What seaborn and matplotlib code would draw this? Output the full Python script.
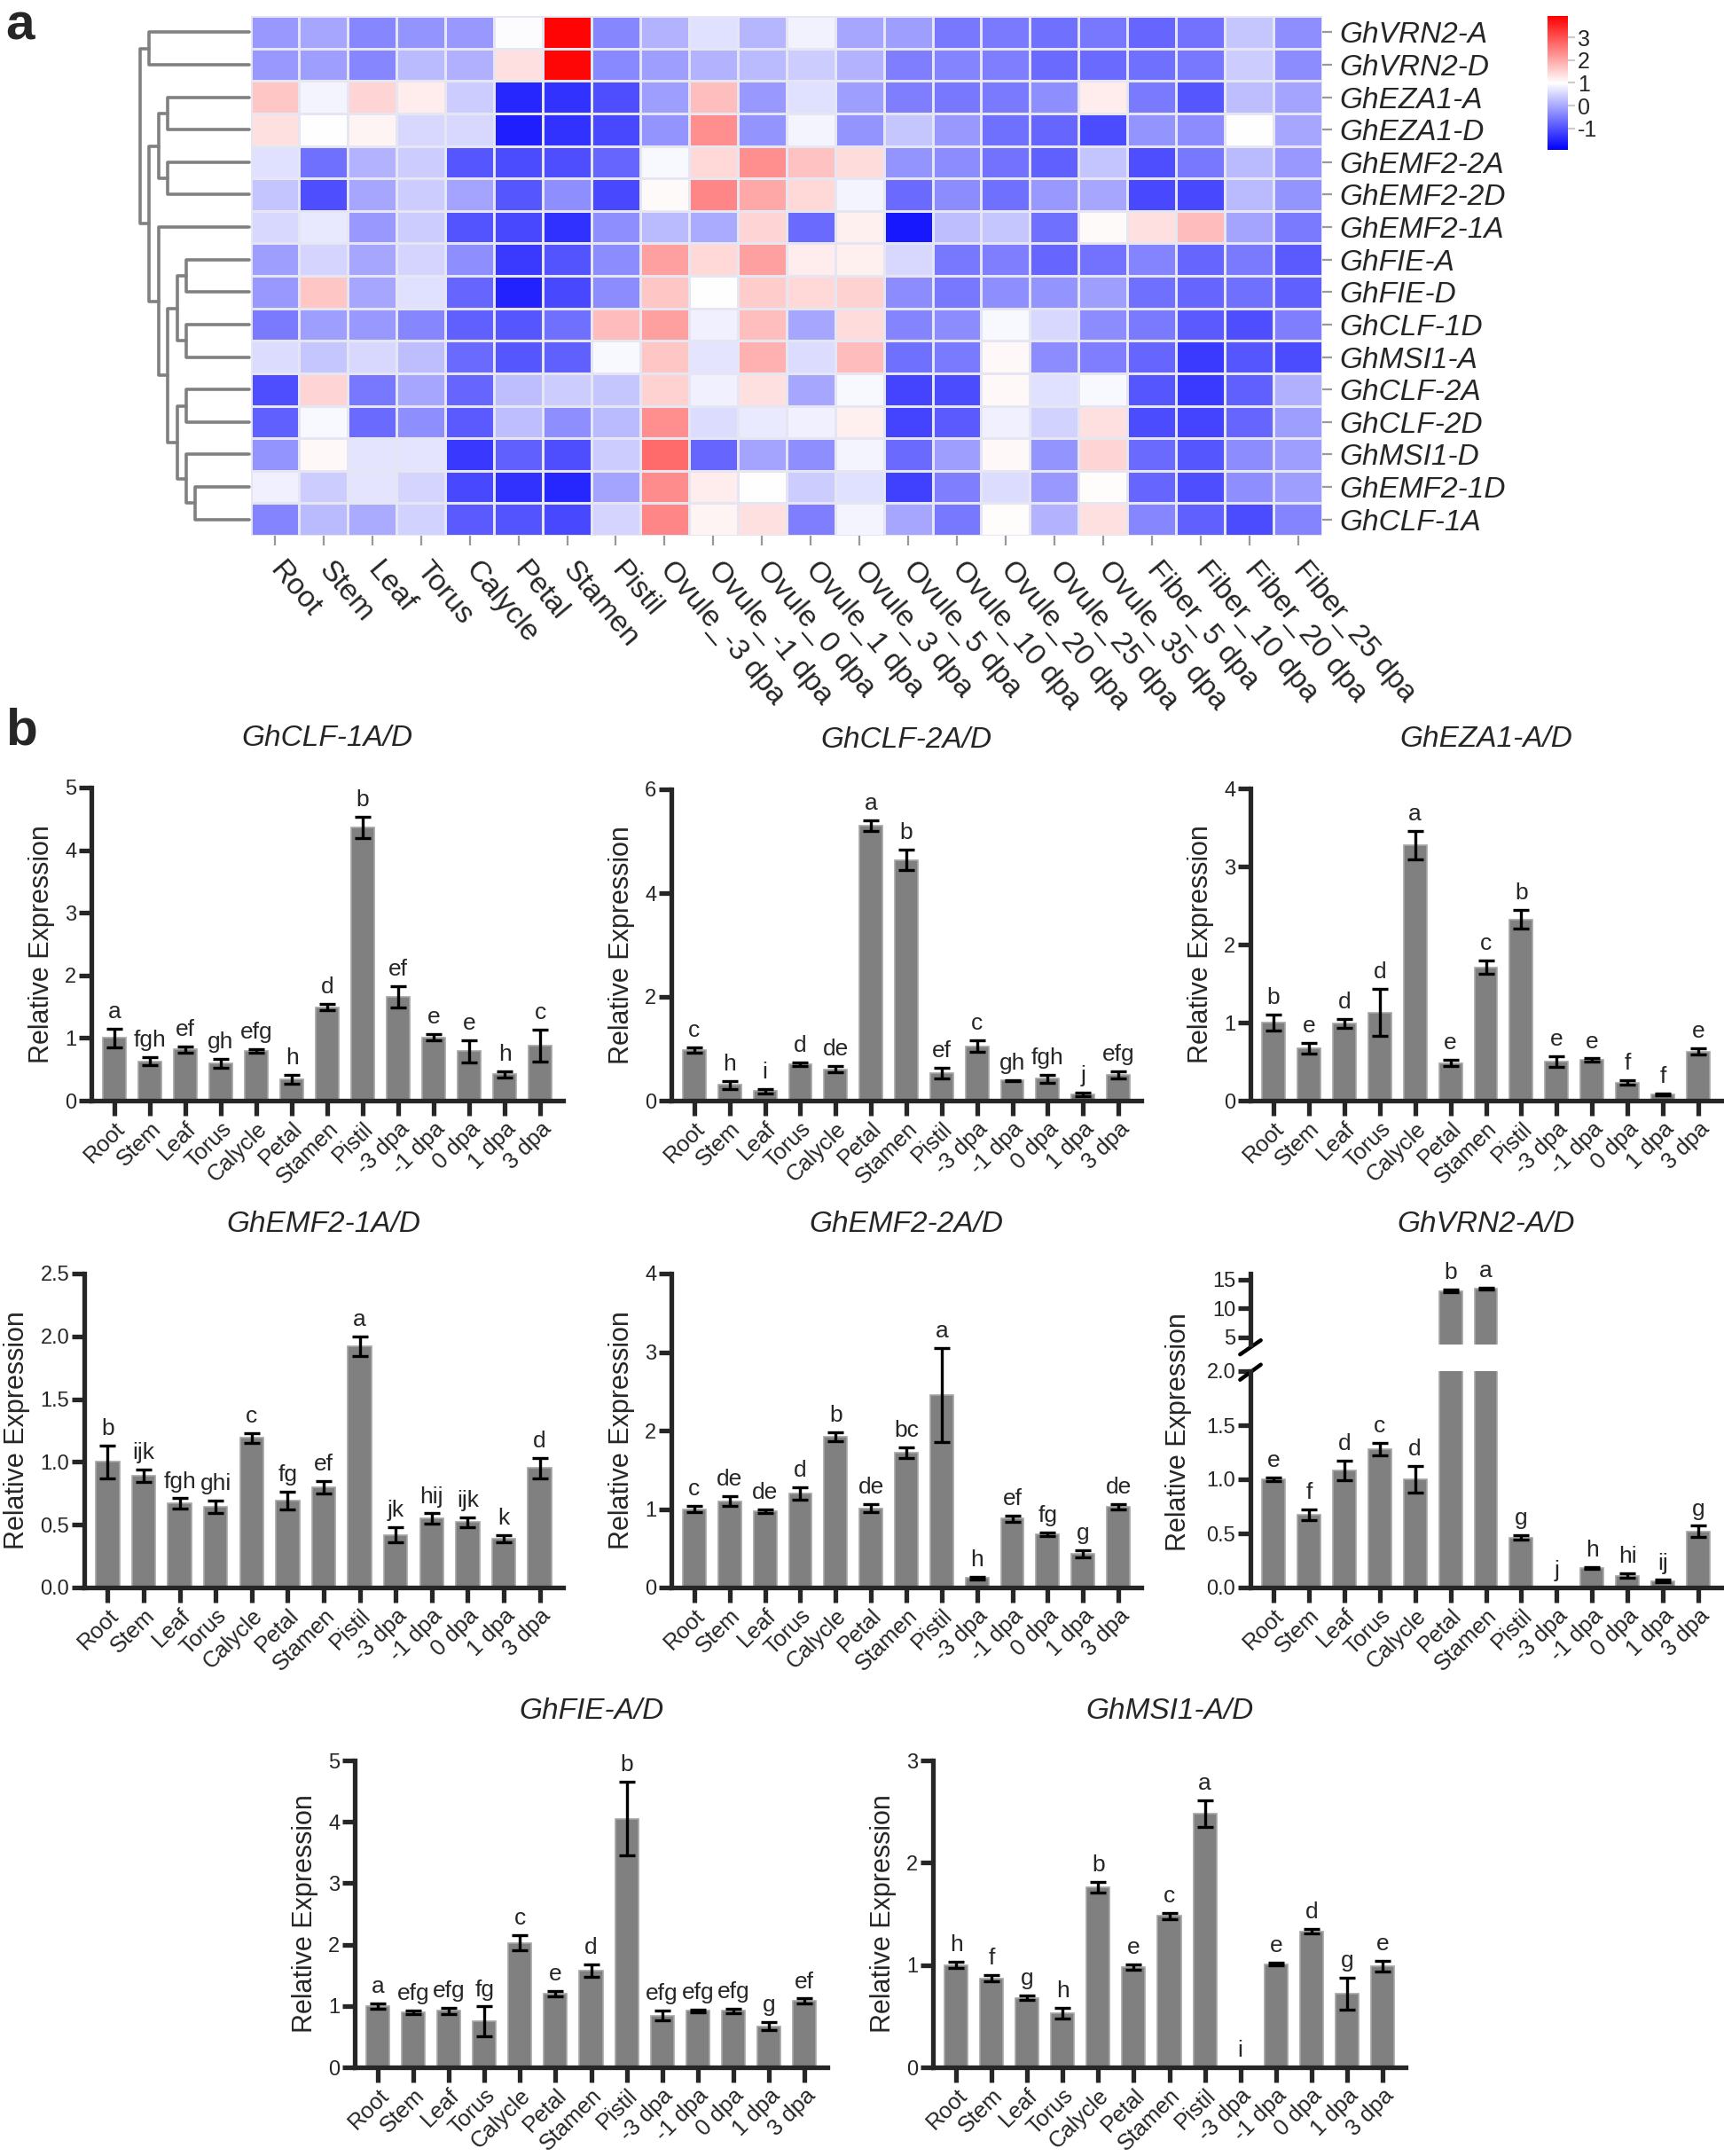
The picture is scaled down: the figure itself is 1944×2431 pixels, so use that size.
import numpy as np
import pandas as pd
import seaborn as sns
import matplotlib.pyplot as plt
from matplotlib.colors import LinearSegmentedColormap

W, H, DPI = 1944, 2431, 200

# ---------- panel a: heatmap data ----------
hm_tissues = ["Root", "Stem", "Leaf", "Torus", "Calycle", "Petal", "Stamen", "Pistil",
              "Ovule_-3 dpa", "Ovule_-1 dpa", "Ovule_0 dpa", "Ovule_1 dpa", "Ovule_3 dpa",
              "Ovule_5 dpa", "Ovule_10 dpa", "Ovule_20 dpa", "Ovule_25 dpa", "Ovule_35 dpa",
              "Fiber_5 dpa", "Fiber_10 dpa", "Fiber_20 dpa", "Fiber_25 dpa"]
hm_genes = ["GhVRN2-A", "GhVRN2-D", "GhEZA1-A", "GhEZA1-D", "GhEMF2-2A", "GhEMF2-2D",
            "GhEMF2-1A", "GhFIE-A", "GhFIE-D", "GhCLF-1D", "GhMSI1-A", "GhCLF-2A",
            "GhCLF-2D", "GhMSI1-D", "GhEMF2-1D", "GhCLF-1A"]
hm_values = [
    [-0.18, -0.03, -0.39, -0.24, -0.18, 0.97, 3.89, -0.39, 0.12, 0.65, 0.17, 0.85, -0.03, -0.12, -0.56, -0.53, -0.65, -0.56, -0.77, -0.62, 0.35, -0.30],
    [-0.18, -0.12, -0.39, 0.20, 0.09, 1.35, 3.86, -0.36, -0.12, 0.12, 0.20, 0.41, 0.12, -0.48, -0.42, -0.48, -0.71, -0.71, -0.65, -0.56, 0.41, -0.33],
    [1.65, 0.88, 1.50, 1.21, 0.41, -1.51, -1.36, -1.04, -0.12, 1.74, -0.18, 0.65, -0.12, -0.48, -0.56, -0.53, -0.30, 1.21, -0.53, -0.95, 0.26, -0.06],
    [1.35, 1.00, 1.12, 0.56, 0.56, -1.60, -1.36, -1.12, -0.24, 2.30, -0.24, 0.88, -0.24, 0.35, -0.18, -0.65, -0.77, -1.07, -0.24, -0.33, 1.00, -0.03],
    [0.65, -0.65, 0.12, 0.41, -0.95, -1.07, -1.04, -0.77, 0.91, 1.44, 2.30, 1.71, 1.41, -0.24, -0.33, -0.62, -0.83, 0.32, -1.04, -0.56, 0.20, -0.18],
    [0.32, -1.04, -0.03, 0.41, -0.06, -0.95, -0.30, -1.12, 1.06, 2.39, 2.00, 1.44, 0.88, -0.71, -0.33, -0.65, -0.18, -0.03, -1.12, -1.12, 0.20, -0.24],
    [0.56, 0.73, -0.18, 0.41, -0.98, -1.12, -1.39, -0.30, 0.20, 0.03, 1.50, -0.71, 1.18, -1.66, 0.26, 0.35, -0.65, 1.06, 1.35, 1.77, -0.06, -0.53],
    [-0.12, 0.50, -0.03, 0.50, -0.30, -1.27, -0.98, -0.33, 2.09, 1.44, 2.09, 1.21, 1.18, 0.56, -0.56, -0.48, -0.77, -0.62, -0.42, -0.77, -0.53, -0.89],
    [-0.18, 1.65, -0.03, 0.65, -0.77, -1.54, -1.12, -0.33, 1.65, 1.00, 1.59, 1.44, 1.53, -0.33, -0.56, -0.30, -0.24, -0.12, -0.65, -0.77, -0.65, -0.83],
    [-0.53, -0.12, -0.18, -0.39, -0.83, -0.95, -0.65, 1.77, 2.09, 0.82, 1.74, -0.03, 1.41, -0.42, -0.33, 0.91, 0.56, -0.33, -0.53, -0.89, -1.04, -0.48],
    [0.59, 0.35, 0.56, 0.26, -0.71, -0.95, -0.83, 0.91, 1.65, 0.70, 1.91, 0.59, 1.77, -0.65, -0.53, 1.09, -0.33, -0.48, -0.77, -1.27, -0.95, -1.07],
    [-1.04, 1.50, -0.56, -0.03, -0.77, 0.26, 0.41, 0.35, 1.53, 0.82, 1.35, -0.03, 0.91, -1.15, -1.07, 1.09, 0.65, 0.91, -0.95, -1.27, -0.83, 0.09],
    [-0.83, 0.91, -0.71, -0.30, -0.89, 0.26, -0.30, 0.20, 2.30, 0.59, 0.76, 0.82, 1.18, -1.15, -0.89, 0.82, 0.47, 1.35, -1.07, -1.15, -0.77, -0.12],
    [-0.24, 1.09, 0.70, 0.70, -1.30, -0.83, -1.04, 0.41, 2.71, -0.77, -0.06, -0.30, 0.88, -0.71, -0.12, 1.09, -0.24, 1.50, -0.71, -0.95, -0.33, -0.12],
    [0.82, 0.41, 0.70, 0.50, -1.12, -1.36, -1.51, -0.06, 2.33, 1.21, 1.00, 0.41, 0.65, -1.21, -0.48, 0.59, -0.18, 1.03, -0.77, -1.04, -0.30, -0.12],
    [-0.42, 0.20, 0.03, 0.47, -0.89, -0.98, -1.12, 0.50, 2.39, 1.12, 1.35, -0.48, 0.88, -0.03, -0.56, 1.03, 0.12, 1.35, -0.39, -0.83, -1.07, -0.42],
]
# row clustering: (left child, right child, merge height)
dendro_merges = [(0, 1, 174), (2, 3, 142), (4, 5, 142), (17, 18, 157), (7, 8, 110),
                 (9, 10, 110), (20, 21, 125), (11, 12, 110), (14, 15, 94), (13, 24, 110),
                 (23, 25, 125), (22, 26, 142), (6, 27, 157), (19, 28, 174), (16, 29, 190)]

# ---------- panel b: qRT-PCR data ----------
tissues = ["Root", "Stem", "Leaf", "Torus", "Calycle", "Petal", "Stamen", "Pistil",
           "-3 dpa", "-1 dpa", "0 dpa", "1 dpa", "3 dpa"]

clf1_vals = [1.00, 0.63, 0.82, 0.60, 0.79, 0.34, 1.49, 4.36, 1.66, 1.01, 0.79, 0.42, 0.88]
clf1_err = [0.15, 0.06, 0.05, 0.07, 0.03, 0.07, 0.05, 0.17, 0.17, 0.05, 0.18, 0.05, 0.26]
clf1_sig = ["a", "fgh", "ef", "gh", "efg", "h", "d", "b", "ef", "e", "e", "h", "c"]

clf2_vals = [0.98, 0.30, 0.18, 0.70, 0.60, 5.30, 4.64, 0.53, 1.05, 0.39, 0.42, 0.12, 0.50]
clf2_err = [0.05, 0.08, 0.04, 0.04, 0.06, 0.10, 0.20, 0.11, 0.11, 0.01, 0.07, 0.03, 0.07]
clf2_sig = ["c", "h", "i", "d", "de", "a", "b", "ef", "c", "gh", "fgh", "j", "efg"]

eza1_vals = [1.00, 0.67, 0.99, 1.13, 3.27, 0.48, 1.71, 2.32, 0.50, 0.52, 0.23, 0.08, 0.63]
eza1_err = [0.10, 0.07, 0.06, 0.30, 0.18, 0.04, 0.09, 0.12, 0.07, 0.02, 0.03, 0.01, 0.04]
eza1_sig = ["b", "e", "d", "d", "a", "e", "c", "b", "e", "e", "f", "f", "e"]

emf21_vals = [1.00, 0.89, 0.67, 0.64, 1.19, 0.69, 0.80, 1.92, 0.42, 0.55, 0.52, 0.39, 0.95]
emf21_err = [0.13, 0.05, 0.04, 0.05, 0.04, 0.07, 0.05, 0.08, 0.06, 0.04, 0.04, 0.03, 0.08]
emf21_sig = ["b", "ijk", "fgh", "ghi", "c", "fg", "ef", "a", "jk", "hij", "ijk", "k", "d"]

emf22_vals = [1.00, 1.10, 0.97, 1.20, 1.92, 1.01, 1.72, 2.45, 0.12, 0.88, 0.68, 0.43, 1.03]
emf22_err = [0.04, 0.06, 0.02, 0.08, 0.06, 0.05, 0.07, 0.60, 0.02, 0.04, 0.02, 0.05, 0.03]
emf22_sig = ["c", "de", "de", "d", "b", "de", "bc", "a", "h", "ef", "fg", "g", "de"]

vrn2_vals = [1.00, 0.67, 1.08, 1.28, 1.00, 13.00, 13.45, 0.46, 0.00, 0.18, 0.11, 0.06, 0.52]
vrn2_err = [0.02, 0.05, 0.09, 0.06, 0.12, 0.20, 0.15, 0.02, 0.00, 0.01, 0.02, 0.01, 0.05]
vrn2_sig = ["e", "f", "d", "c", "d", "b", "a", "g", "j", "h", "hi", "ij", "g"]

fie_vals = [1.00, 0.90, 0.92, 0.75, 2.03, 1.20, 1.57, 4.05, 0.84, 0.92, 0.92, 0.67, 1.08]
fie_err = [0.04, 0.03, 0.05, 0.24, 0.12, 0.05, 0.10, 0.60, 0.08, 0.02, 0.04, 0.07, 0.04]
fie_sig = ["a", "efg", "efg", "fg", "c", "e", "d", "b", "efg", "efg", "efg", "g", "ef"]

msi1_vals = [1.00, 0.87, 0.68, 0.53, 1.76, 0.98, 1.48, 2.48, 0.00, 1.01, 1.33, 0.72, 0.99]
msi1_err = [0.03, 0.03, 0.02, 0.05, 0.05, 0.03, 0.03, 0.13, 0.00, 0.01, 0.02, 0.16, 0.05]
msi1_sig = ["h", "f", "g", "h", "b", "e", "c", "a", "i", "e", "d", "g", "e"]


def box(l, t, r, b):
    return [l / W, 1 - b / H, (r - l) / W, (b - t) / H]


sns.set_style("ticks")
plt.rcParams["font.family"] = ["Liberation Sans", "DejaVu Sans"]
plt.rcParams["axes.linewidth"] = 1.9
plt.rcParams["axes.unicode_minus"] = False

fig = plt.figure(figsize=(W / DPI, H / DPI), dpi=DPI)

# ---------- heatmap ----------
ax_hm = fig.add_axes(box(282.5, 18, 1491, 604))
ax_cb = fig.add_axes(box(1745, 18, 1768, 169))
ax_dn = fig.add_axes(box(158, 18, 281, 604))

hm = pd.DataFrame(hm_values, index=hm_genes, columns=hm_tissues)
cmap = LinearSegmentedColormap.from_list("bwr_hm", ["#0000ff", "#ffffff", "#ff0000"])
sns.heatmap(hm, ax=ax_hm, cmap=cmap, vmin=-1.95, vmax=3.95, linewidths=1.0,
            linecolor="#e6e6f2", cbar_ax=ax_cb, cbar_kws={"ticks": [-1, 0, 1, 2, 3]})
ax_hm.yaxis.tick_right()
ax_hm.set_yticks(np.arange(16) + 0.5)
ax_hm.set_yticklabels(hm_genes, rotation=0, fontsize=12, style="italic", ha="left")
ax_hm.set_xticks(np.arange(22) + 0.5)
ax_hm.set_xticklabels(hm_tissues, rotation=-50, ha="left", va="center",
                      rotation_mode="anchor", fontsize=12)
ax_hm.tick_params(axis="both", length=4, width=0.8, color="#999999", pad=3)
ax_hm.tick_params(axis="x", pad=8)
ax_hm.set_xlabel("")
ax_hm.set_ylabel("")
cb = ax_hm.collections[0].colorbar
cb.outline.set_visible(False)
ax_cb.tick_params(labelsize=9, length=3, width=0.8, color="#cccccc", pad=1)

# dendrogram
pos = {i: i + 0.5 for i in range(16)}
hgt = {i: 0 for i in range(16)}
nid = 16
for a, b, h in dendro_merges:
    ax_dn.plot([hgt[a], h, h, hgt[b]], [pos[a], pos[a], pos[b], pos[b]],
               color="#808080", lw=1.3, clip_on=False)
    pos[nid] = (pos[a] + pos[b]) / 2
    hgt[nid] = h
    nid += 1
ax_dn.set_xlim(190, 0)
ax_dn.set_ylim(16, 0)
ax_dn.axis("off")

fig.text(0.003, 0.999, "a", fontsize=21, fontweight="bold", va="top", ha="left")
fig.text(0.003, 0.672, "b", fontsize=21, fontweight="bold", va="top", ha="left")


# ---------- bar charts ----------
def style_bar_axis(ax):
    sns.despine(ax=ax)
    ax.set_xlim(-0.65, 12.65)
    ax.tick_params(axis="x", length=6, width=1.9, labelsize=9.2, pad=1)
    ax.tick_params(axis="y", length=5, width=1.9, labelsize=8.5, pad=1)
    ax.set_xlabel("")


def draw_bars(ax, vals, errs, sig, lo=0.0, hi=None):
    sns.barplot(x=tissues, y=vals, ax=ax, color="#808080", saturation=1, width=0.65,
                edgecolor="#a6a6a6", linewidth=0.6)
    ax.errorbar(np.arange(len(vals)), vals, yerr=errs, fmt="none", ecolor="black",
                elinewidth=1.2, capsize=3.4, capthick=1.2)
    for i, (v, e, s) in enumerate(zip(vals, errs, sig)):
        top = v + e
        if top < lo or (hi is not None and top > hi):
            continue
        ax.annotate(s, (i, max(top, lo)), xytext=(0, 2.5), textcoords="offset points",
                    ha="center", va="bottom", fontsize=9.5, annotation_clip=False)


def bar_panel(rect, title, vals, errs, sig, ymax, yticks, fmt):
    ax = fig.add_axes(rect)
    draw_bars(ax, vals, errs, sig, hi=ymax)
    ax.set_ylim(0, ymax)
    ax.set_yticks(yticks)
    ax.set_yticklabels([fmt.format(t) for t in yticks])
    ax.set_xticks(range(len(tissues)))
    ax.set_xticklabels(tissues, rotation=45, ha="right", rotation_mode="anchor")
    style_bar_axis(ax)
    ax.set_ylabel("Relative Expression", fontsize=11)
    ax.set_title(title, fontsize=12, style="italic", pad=17)
    return ax


bar_panel(box(103, 888, 635, 1241), "GhCLF-1A/D", clf1_vals, clf1_err, clf1_sig,
          5, [0, 1, 2, 3, 4, 5], "{:.0f}")
bar_panel(box(757, 890, 1287, 1241), "GhCLF-2A/D", clf2_vals, clf2_err, clf2_sig,
          6, [0, 2, 4, 6], "{:.0f}")
bar_panel(box(1410, 889, 1941, 1241), "GhEZA1-A/D", eza1_vals, eza1_err, eza1_sig,
          4, [0, 1, 2, 3, 4], "{:.0f}")
bar_panel(box(95, 1436, 635, 1790), "GhEMF2-1A/D", emf21_vals, emf21_err, emf21_sig,
          2.5, [0, 0.5, 1.0, 1.5, 2.0, 2.5], "{:.1f}")
bar_panel(box(757, 1436, 1287, 1790), "GhEMF2-2A/D", emf22_vals, emf22_err, emf22_sig,
          4, [0, 1, 2, 3, 4], "{:.0f}")
bar_panel(box(400, 1985, 933, 2331), "GhFIE-A/D", fie_vals, fie_err, fie_sig,
          5, [0, 1, 2, 3, 4, 5], "{:.0f}")
bar_panel(box(1052, 1985, 1585, 2331), "GhMSI1-A/D", msi1_vals, msi1_err, msi1_sig,
          3, [0, 1, 2, 3], "{:.0f}")

# broken-axis panel for GhVRN2-A/D
ax_lo = fig.add_axes(box(1410, 1546, 1941, 1790))
ax_hi = fig.add_axes(box(1410, 1436, 1941, 1516))
draw_bars(ax_lo, vrn2_vals, vrn2_err, vrn2_sig, hi=2.0)
draw_bars(ax_hi, vrn2_vals, vrn2_err, vrn2_sig, lo=3.7)
ax_lo.set_ylim(0, 2.0)
ax_lo.set_yticks([0, 0.5, 1.0, 1.5, 2.0])
ax_lo.set_yticklabels(["0.0", "0.5", "1.0", "1.5", "2.0"])
ax_lo.set_xticks(range(len(tissues)))
ax_lo.set_xticklabels(tissues, rotation=45, ha="right", rotation_mode="anchor")
ax_hi.set_ylim(3.7, 16)
ax_hi.set_yticks([5, 10, 15])
ax_hi.set_yticklabels(["5", "10", "15"])
for ax in (ax_lo, ax_hi):
    style_bar_axis(ax)
ax_lo.set_ylabel("Relative Expression", fontsize=11)
ax_lo.yaxis.set_label_coords(-0.125, 0.72)
ax_hi.spines["bottom"].set_visible(False)
ax_hi.set_xticks([])
ax_hi.set_ylabel("")
ax_hi.set_title("GhVRN2-A/D", fontsize=12, style="italic", pad=17)
ax_hi.set_facecolor("none")
kw = dict(color="black", lw=1.6, clip_on=False)
ax_hi.plot([-0.022, 0.022], [-0.14, 0.06], transform=ax_hi.transAxes, **kw)
ax_lo.plot([-0.022, 0.022], [0.96, 1.03], transform=ax_lo.transAxes, **kw)

fig.savefig("out.png", dpi=DPI)
